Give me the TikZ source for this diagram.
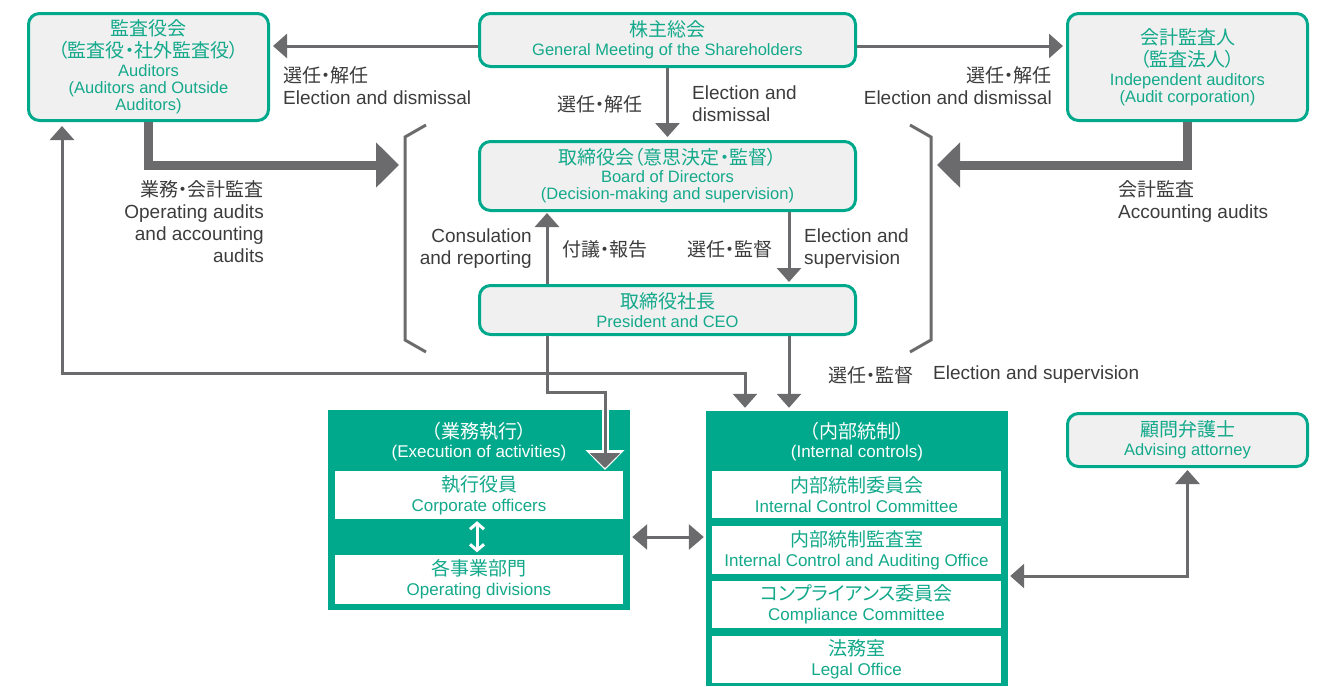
\documentclass[tikz,border=0pt]{standalone}
\usepackage{fontspec}
\setmainfont{Liberation Sans}
\newfontfamily\cjk[RawFeature=+palt]{Noto Sans CJK JP}
\usetikzlibrary{arrows.meta}
\definecolor{grn}{HTML}{00A98B}
\definecolor{gtx}{HTML}{14A98B}
\definecolor{arr}{HTML}{6B6B6D}
\definecolor{lbl}{HTML}{3C3C3C}
\definecolor{boxbg}{HTML}{F0F0F0}
\newcommand{\jl}[1]{{\fontsize{19}{22}\selectfont\cjk #1}}
\begin{document}
\begin{tikzpicture}[x=1pt,y=-1pt,
  rbox/.style={draw=grn, line width=3pt, fill=boxbg, rounded corners=11pt, align=center, text=gtx, inner sep=0pt, font=\fontsize{16.5}{17}\selectfont},
  blk/.style={fill=grn, draw=none, inner sep=0pt},
  wbox/.style={fill=white, draw=none, align=center, text=gtx, inner sep=0pt, font=\fontsize{17}{18}\selectfont},
  hdr/.style={align=center, text=white, inner sep=0pt, font=\fontsize{17}{18}\selectfont},
  lab/.style={text=lbl, inner sep=0pt, font=\fontsize{19}{22}\selectfont},
  tarr/.style={draw=arr, line width=3pt, -{Triangle[width=24pt,length=14pt]}},
  tarrb/.style={draw=arr, line width=3pt, {Triangle[width=24pt,length=14pt]}-{Triangle[width=24pt,length=14pt]}},
  barr/.style={draw=arr, line width=9pt, -{Triangle[width=44pt,length=23pt]}},
  brk/.style={draw=arr, line width=3pt}
]
\useasboundingbox (0,0) rectangle (1326,686);

% top boxes
\node[rbox, minimum width=240pt, minimum height=107pt] (aud) at (148.5,67)
  {\jl{監査役会}\\[3pt]\jl{（監査役・社外監査役）}\\[2pt]Auditors\\(Auditors and Outside\\Auditors)};
\node[rbox, minimum width=376pt, minimum height=53pt] (sh) at (667.5,40)
  {\jl{株主総会}\\[2pt]General Meeting of the Shareholders};
\node[rbox, minimum width=240pt, minimum height=107pt] (ind) at (1187.5,67)
  {\jl{会計監査人}\\[3pt]\jl{（監査法人）}\\[2pt]Independent auditors\\(Audit corporation)};
\node[rbox, minimum width=376pt, minimum height=69pt] (board) at (667.5,176)
  {\jl{取締役会（意思決定・監督）}\\[1pt]Board of Directors\\(Decision-making and supervision)};
\node[rbox, minimum width=376pt, minimum height=49pt] (pres) at (667.5,310)
  {\jl{取締役社長}\\[2pt]President and CEO};
\node[rbox, minimum width=240pt, minimum height=53pt] (att) at (1187.5,440)
  {\jl{顧問弁護士}\\[2pt]Advising attorney};

% execution block
\node[blk, minimum width=302pt, minimum height=200pt] (exec) at (479,510) {};
\node[hdr] (exech) at (479,442) {\jl{（業務執行）}\\[1pt](Execution of activities)};
\node[wbox, minimum width=288pt, minimum height=48pt] (cofc) at (479,495)
  {\jl{執行役員}\\[2pt]Corporate officers};
\node[wbox, minimum width=288pt, minimum height=49pt] (odiv) at (479,579)
  {\jl{各事業部門}\\[2pt]Operating divisions};
\draw[white, line width=3pt, {Straight Barb[length=6pt,width=14pt]}-{Straight Barb[length=6pt,width=14pt]}]
  ([xshift=-2pt,yshift=-2pt]cofc.south) -- ([xshift=-2pt,yshift=2pt]odiv.north);

% internal controls block
\node[blk, minimum width=302pt, minimum height=275pt] (ic) at (857,548.5) {};
\node[hdr] (ich) at (857,442) {\jl{（内部統制）}\\[1pt](Internal controls)};
\node[wbox, minimum width=289pt, minimum height=47pt] (icc) at (856.5,494.5)
  {\jl{内部統制委員会}\\[2pt]Internal Control Committee};
\node[wbox, minimum width=289pt, minimum height=48pt] (icao) at (856.5,550)
  {\jl{内部統制監査室}\\[2pt]Internal Control and Auditing Office};
\node[wbox, minimum width=289pt, minimum height=47pt] (cc) at (856.5,604.5)
  {\jl{コンプライアンス委員会}\\[2pt]Compliance Committee};
\node[wbox, minimum width=289pt, minimum height=47pt] (lo) at (856.5,659.5)
  {\jl{法務室}\\[2pt]Legal Office};

% brackets
\coordinate (lb1) at (426,125); \coordinate (lb2) at (405,137);
\coordinate (lb3) at (405,340); \coordinate (lb4) at (426,352);
\coordinate (rb1) at (910,125); \coordinate (rb2) at (931,137);
\coordinate (rb3) at (931,340); \coordinate (rb4) at (910,352);
\draw[brk] (lb1) -- (lb2) -- (lb3) -- (lb4);
\draw[brk] (rb1) -- (rb2) -- (rb3) -- (rb4);

% shareholders arrows
\draw[tarr, shorten >=3pt] ([yshift=-6pt]sh.west) -- ([yshift=-6pt]sh.west -| aud.east);
\draw[tarr, shorten >=3pt] ([yshift=-6pt]sh.east) -- ([yshift=-6pt]sh.east -| ind.west);
\draw[tarr, shorten >=3pt] (sh.south) -- (board.north);

% thick audit arrows
\coordinate (lt) at (399,165);
\coordinate (rt) at (937,165);
\draw[barr] (aud.south) |- (lt);
\draw[barr] (ind.south) |- (rt);

% board <-> president
\draw[tarr, shorten >=1pt] ([xshift=-120.5pt]pres.north) -- ([xshift=-120.5pt]board.south);
\draw[tarr, shorten >=2pt] ([xshift=121.5pt]board.south) -- ([xshift=121.5pt]pres.north);

% president -> execution (white cased)
\coordinate (pe1) at (547,392);
\coordinate (pe2) at (605,392);
\coordinate (pe3) at (605,470);
\draw[white, line width=7pt, -{Triangle[width=38pt,length=20pt]}] ([xshift=-120.5pt]pres.south) |- (pe1) -- (pe2) -- (pe3);
\draw[arr, line width=3pt, -{Triangle[width=30pt,length=15pt]}] ([xshift=-120.5pt]pres.south) |- (pe1) -- (pe2) -- ([yshift=2pt]pe3);

% auditors <-> internal controls
\coordinate (ac) at (62,373);
\draw[tarrb, shorten <=4pt, shorten >=3pt] (aud.south -| ac) -- (ac) -| ([xshift=-112pt]ic.north);
% president -> internal controls
\draw[tarr, shorten >=3pt] ([xshift=121.5pt]pres.south) -- ([xshift=121.5pt]pres.south |- ic.north);

% execution <-> internal controls
\draw[draw=arr, line width=3pt, {Triangle[width=25pt,length=15pt]}-{Triangle[width=25pt,length=15pt]}, shorten <=2pt, shorten >=2pt]
  ([yshift=-27pt]exec.east) -- ([yshift=-27pt]exec.east -| ic.west);
% attorney <-> internal controls
\draw[tarrb, shorten <=2pt, shorten >=2pt] (att.south) |- ([yshift=-27.5pt]ic.east);

% labels
\node[lab, anchor=north west, align=left] (l1) at (283,66) {{\cjk 選任・解任}\\Election and dismissal};
\node[lab, anchor=north east, align=right] (l2) at (1052,66) {{\cjk 選任・解任}\\Election and dismissal};
\node[lab, anchor=east] (l3) at (643,104) {\cjk 選任・解任};
\node[lab, anchor=west, align=left] (l4) at (692,104) {Election and\\dismissal};
\node[lab, anchor=north east, align=right] (l5) at (264,180) {{\cjk 業務・会計監査}\\Operating audits\\and accounting\\audits};
\node[lab, anchor=north west, align=left] (l6) at (1118,180) {{\cjk 会計監査}\\Accounting audits};
\node[lab, anchor=east, align=right] (l7) at (532,249) {Consulation\\and reporting};
\node[lab, anchor=west] (l8) at (562,249) {\cjk 付議・報告};
\node[lab, anchor=east] (l9) at (773,249) {\cjk 選任・監督};
\node[lab, anchor=west, align=left] (l10) at (804,249) {Election and\\supervision};
\node[lab, anchor=west] (l11) at (828,375) {\cjk 選任・監督};
\node[lab, anchor=west] (l12) at (933,375) {Election and supervision};
\end{tikzpicture}
\end{document}
